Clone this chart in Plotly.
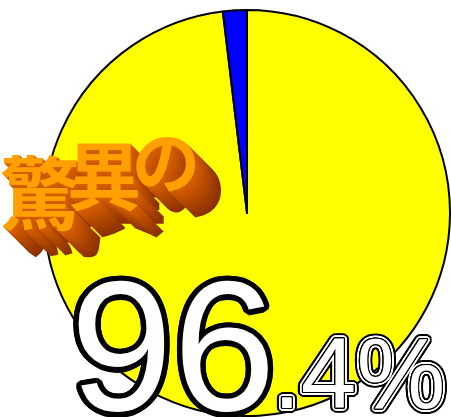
import math
import plotly.graph_objects as go

# ---- data ----
labels = ["驚異", "その他"]
values = [98.1, 1.9]
colors = ["#FFFF00", "#0000FF"]
title_chars = ["驚", "異", "の"]
big_number = "96"
small_number = ".4%"

W, H = 451, 417


def ring(r, color, n=20):
    out = []
    for i in range(n):
        a = 2 * math.pi * i / n
        out.append(f"{r*math.cos(a):.2f}px {r*math.sin(a):.2f}px 0 {color}")
    return out


def extrude(depth, c_near, c_far):
    def hx(c):
        return [int(c[i:i + 2], 16) for i in (1, 3, 5)]
    a, b = hx(c_near), hx(c_far)
    out = []
    for d in range(1, depth + 1):
        t = d / depth
        col = "#%02x%02x%02x" % tuple(int(a[k] + (b[k] - a[k]) * t) for k in range(3))
        out.append(f"{d}px {d}px 0 {col}")
    return out


def px(x):
    return x / W


def py(y):
    return (H - y) / H


fig = go.Figure()
fig.add_trace(go.Pie(
    labels=labels,
    values=values,
    sort=False,
    direction="clockwise",
    rotation=0,
    marker=dict(colors=colors, line=dict(color="#000000", width=2)),
    textinfo="none",
    hoverinfo="label+percent",
    showlegend=False,
    domain=dict(x=[px(44), px(450)], y=[py(416), py(10)]),
))

annotations = []

# 3D-looking title characters
cjk_font = "Noto Sans CJK JP"
char_specs = [  # (center x, center y, size)
    (40, 184, 80),
    (104, 168, 74),
    (166, 155, 68),
]
for ch, (cx, cy, sz) in zip(title_chars, char_specs):
    annotations.append(dict(
        text=f"<b>{ch}</b>",
        x=px(cx), y=py(cy + 0.05 * sz), xref="paper", yref="paper",
        xanchor="center", yanchor="middle", showarrow=False,
        font=dict(family=cjk_font, size=sz, color="#FFA000",
                  shadow=", ".join(extrude(26, "#D86000", "#8A3000"))),
    ))

# Big number "96"
big_size = 185
annotations.append(dict(
    text=big_number,
    x=px(68), y=py(410 - 0.3465 * big_size), xref="paper", yref="paper",
    xanchor="left", yanchor="middle", showarrow=False,
    font=dict(family="Liberation Sans, Arial", size=big_size, color="#FFFFFF",
              shadow=", ".join(ring(5.5, "#000000") + ring(3, "#000000"))),
))

# Smaller ".4%"
small_size = 100
annotations.append(dict(
    text=small_number,
    x=px(271), y=py(408 - 0.3465 * small_size), xref="paper", yref="paper",
    xanchor="left", yanchor="middle", showarrow=False,
    font=dict(family="Liberation Sans, Arial", size=small_size,
              color="#FFFFFF",
              shadow=", ".join(ring(1.2, "#000000") + ring(3.0, "#FFFFFF") + ring(5.2, "#000000")
                               + ring(4.3, "#000000"))),
))

fig.update_layout(
    width=W, height=H,
    margin=dict(l=0, r=0, t=0, b=0),
    paper_bgcolor="#FFFFFF",
    plot_bgcolor="#FFFFFF",
    annotations=annotations,
)

fig.write_html(
    "out.html",
    config={"displayModeBar": False},
    post_script="document.body.style.margin='0';document.body.style.overflow='hidden';",
)
